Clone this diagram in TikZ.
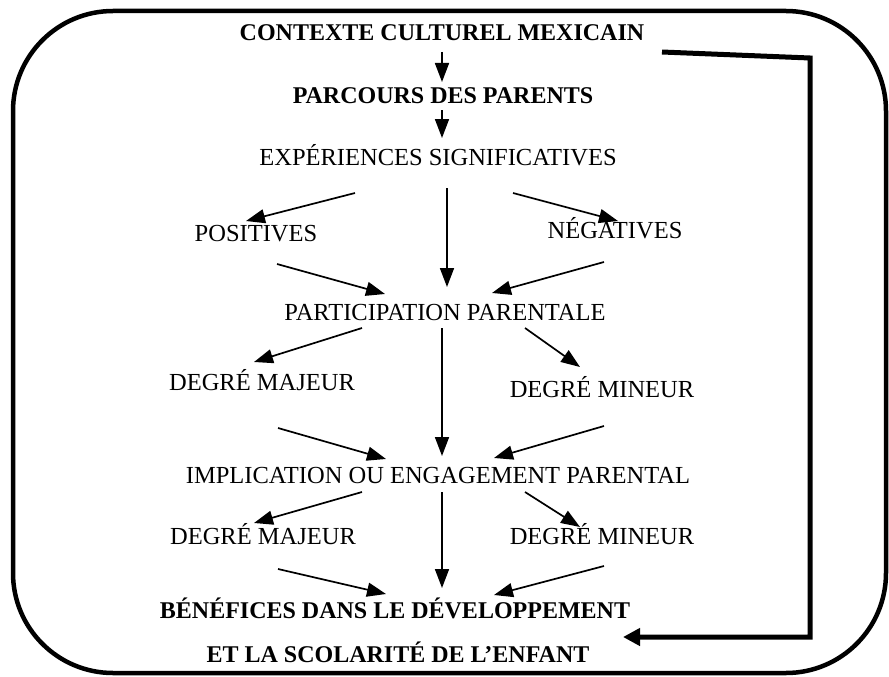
\documentclass[tikz,border=0pt]{standalone}
\usepackage{fontspec}
\setmainfont{Liberation Serif}
\usepackage{tikz}
\usetikzlibrary{positioning,calc,arrows.meta}

\begin{document}
\begin{tikzpicture}[
    x=1pt, y=-1pt,
    lbl/.style={inner sep=0pt, anchor=base, font=\fontsize{24.5}{28}\selectfont},
    blbl/.style={lbl, font=\fontsize{24}{28}\selectfont\bfseries},
    arrow/.style={-{Triangle[length=19pt,width=14pt]}, line width=1.7pt},
    back/.style={-{Triangle[length=17pt,width=17pt]}, line width=5pt}
]
\useasboundingbox (0,0) rectangle (889,677);

% Frame
\draw[line width=4.5pt, rounded corners=100pt] (13,11) rectangle (886,673);

% Top chain
\node[blbl] (cont) at (442,41) {CONTEXTE CULTUREL MEXICAIN};
\node[blbl] (parc) at (443,103) {PARCOURS DES PARENTS};
\node[lbl] (exp) at (438,165) {EXPÉRIENCES SIGNIFICATIVES};

\draw[arrow] ($(cont.base)+(0,11)$) -- ($(parc.base)+(-1,-21)$);
\draw[arrow] ($(parc.base)+(-1,7)$) -- ($(exp.base)+(4,-27)$);

% Experiences
\node[lbl] (pos) at (256,241) {POSITIVES};
\node[lbl] (neg) at (615,238) {NÉGATIVES};
\node[lbl] (part) at (445,320) {PARTICIPATION PARENTALE};

\draw[arrow] ($(exp.base)+(-83,28)$) -- ($(pos.base)+(-10,-20)$);
\draw[arrow] ($(exp.base)+(9,23)$) -- ($(part.base)+(2,-33)$);
\draw[arrow] ($(exp.base)+(75,28)$) -- ($(neg.base)+(3,-17)$);
\draw[arrow] ($(pos.base)+(21,23)$) -- ($(part.base)+(-60,-26)$);
\draw[arrow] ($(neg.base)+(-11,24)$) -- ($(part.base)+(47,-27)$);

% Participation
\node[lbl] (maja) at (262,390) {DEGRÉ MAJEUR};
\node[lbl] (mina) at (602,397) {DEGRÉ MINEUR};
\node[lbl] (impl) at (438,483) {IMPLICATION OU ENGAGEMENT PARENTAL};

\draw[arrow] ($(part.base)+(-83,8)$) -- ($(maja.base)+(-8,-28)$);
\draw[arrow] ($(part.base)+(-3,8)$) -- ($(impl.base)+(4,-27)$);
\draw[arrow] ($(part.base)+(80,8)$) -- ($(mina.base)+(-22,-30)$);
\draw[arrow] ($(maja.base)+(16,38)$) -- ($(impl.base)+(-52,-24)$);
\draw[arrow] ($(mina.base)+(2,29)$) -- ($(impl.base)+(56,-25)$);

% Implication
\node[lbl] (majb) at (263,544) {DEGRÉ MAJEUR};
\node[lbl] (minb) at (602,544) {DEGRÉ MINEUR};
\node[blbl] (ben) at (395,618) {BÉNÉFICES DANS LE DÉVELOPPEMENT};
\node[blbl] (et) at (398,662) {ET LA SCOLARITÉ DE L’ENFANT};

\draw[arrow] ($(impl.base)+(-76,9)$) -- ($(majb.base)+(-9,-21)$);
\draw[arrow] ($(impl.base)+(4,9)$) -- ($(ben.base)+(47,-30)$);
\draw[arrow] ($(impl.base)+(87,9)$) -- ($(minb.base)+(-22,-17)$);
\draw[arrow] ($(majb.base)+(15,25)$) -- ($(ben.base)+(-9,-24)$);
\draw[arrow] ($(minb.base)+(2,22)$) -- ($(ben.base)+(99,-23)$);

% Feedback loop
\draw[back] ($(cont.base)+(220,11)$) -- ++(148,6) |- ($(ben.base)+(228,19)$);

\end{tikzpicture}
\end{document}
